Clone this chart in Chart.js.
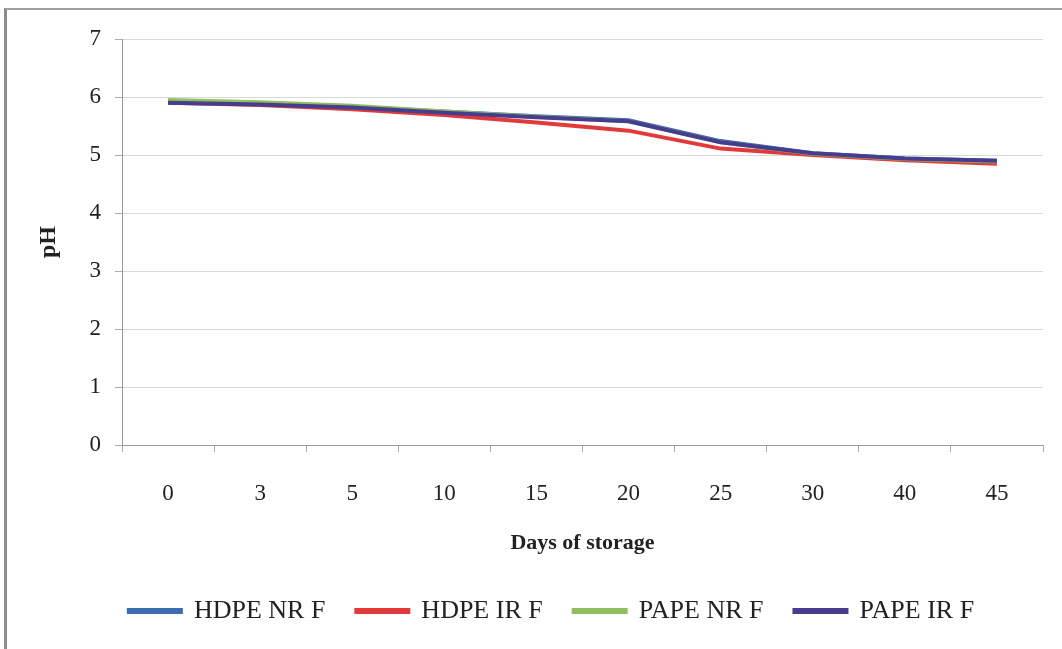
<!DOCTYPE html>
<html>
<head>
<meta charset="utf-8">
<script src="https://cdn.jsdelivr.net/npm/chart.js@4.4.1/dist/chart.umd.min.js"></script>
<style>
  html, body { margin: 0; padding: 0; background: #fff; overflow: hidden; width: 1062px; height: 649px; }
  #wrap { position: relative; width: 1062px; height: 649px; overflow: hidden; }
  #c { position: absolute; left: 0; top: 0; }
  #frame { position: absolute; left: 4px; top: 8px; width: 1058px; height: 641px;
           border-left: 3px solid #8c8c8c; border-top: 2px solid #a0a0a0; pointer-events: none; }
</style>
</head>
<body>
<div id="wrap">
  <canvas id="c" width="1062" height="649"></canvas>
  <div id="frame"></div>
</div>
<script>
const days = ['0', '3', '5', '10', '15', '20', '25', '30', '40', '45'];
const hdpeNR = [5.92, 5.88, 5.83, 5.75, 5.67, 5.60, 5.24, 5.03, 4.94, 4.90];
const hdpeIR = [5.90, 5.86, 5.79, 5.69, 5.56, 5.42, 5.11, 5.00, 4.91, 4.85];
const papeNR = [5.95, 5.91, 5.85, 5.75, 5.66, 5.58, 5.22, 5.02, 4.93, 4.89];
const papeIR = [5.90, 5.87, 5.82, 5.73, 5.65, 5.58, 5.22, 5.03, 4.94, 4.90];
const seriesNames = ['HDPE NR F', 'HDPE IR F', 'PAPE NR F', 'PAPE IR F'];
const yTicks = [0, 1, 2, 3, 4, 5, 6, 7];

const colors = ['#3b6db3', '#e23a3a', '#8fbf5f', '#473d8f'];
const drawOrder = [3, 2, 1, 0];
const allSeries = [hdpeNR, hdpeIR, papeNR, papeIR];

const serif = "'Liberation Serif', 'Times New Roman', serif";

new Chart(document.getElementById('c'), {
  type: 'line',
  data: {
    labels: days,
    datasets: allSeries.map((d, i) => ({
      label: seriesNames[i],
      data: d,
      borderColor: colors[i],
      backgroundColor: colors[i],
      borderWidth: 4,
      pointRadius: 0,
      tension: 0,
      fill: false,
      order: drawOrder[i]
    }))
  },
  options: {
    responsive: false,
    animation: false,
    layout: { padding: { top: 39, left: 60, right: 19, bottom: 15 } },
    plugins: {
      tooltip: { enabled: false },
      legend: {
        position: 'bottom',
        labels: {
          boxWidth: 52,
          boxHeight: 2,
          padding: 31,
          color: '#222',
          font: { family: serif, size: 26 },
          sort: (a, b) => a.datasetIndex - b.datasetIndex
        }
      }
    },
    scales: {
      x: {
        offset: true,
        afterFit: (s) => { s.height = 122; },
        grid: { display: true, drawOnChartArea: false, drawTicks: true, tickLength: 7, tickColor: '#aaaaaa', offset: true },
        border: { display: true, color: '#9a9a9a', width: 1 },
        ticks: { color: '#222', padding: 28, font: { family: serif, size: 23 }, maxRotation: 0 },
        title: { display: true, text: 'Days of storage', color: '#222', padding: { top: 0, bottom: 10 },
                 font: { family: serif, size: 22, weight: 'bold' } }
      },
      y: {
        min: 0, max: 7,
        afterFit: (s) => { s.width = 62; },
        afterBuildTicks: (s) => { s.ticks = yTicks.map(v => ({ value: v })); },
        grid: { color: '#d9d9d9', lineWidth: 1, drawTicks: true, tickLength: 7, tickColor: '#aaaaaa' },
        border: { display: true, color: '#9a9a9a', width: 1 },
        ticks: { color: '#222', padding: 14, font: { family: serif, size: 23 } },
        title: { display: true, text: 'pH', color: '#222', padding: { top: -26, bottom: 0 },
                 font: { family: serif, size: 24, weight: 'bold' } }
      }
    }
  }
});
</script>
</body>
</html>
